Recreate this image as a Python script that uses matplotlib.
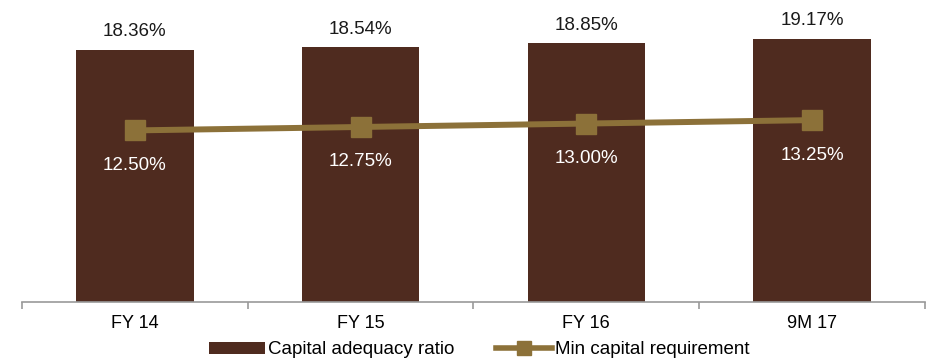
import matplotlib
matplotlib.use("Agg")
import matplotlib.pyplot as plt
from matplotlib.patches import Patch
from matplotlib.lines import Line2D
import numpy as np

categories = ["FY 14", "FY 15", "FY 16", "9M 17"]
capital_adequacy = [18.36, 18.54, 18.85, 19.17]
min_requirement = [12.50, 12.75, 13.00, 13.25]

bar_color = "#4F2B1F"
line_color = "#8C7139"

plt.rcParams["font.family"] = ["Liberation Sans", "DejaVu Sans"]

fig = plt.figure(figsize=(9.29, 3.61), dpi=100)
ax = fig.add_axes([22 / 929, 59 / 361, 903 / 929, 302 / 361])

x = np.arange(len(categories))
ax.bar(x, capital_adequacy, width=0.52, color=bar_color, zorder=2)
ax.plot(x, min_requirement, color=line_color, lw=4.3, marker="s", markersize=14, zorder=3)

for xi, v in zip(x, capital_adequacy):
    ax.annotate(f"{v:.2f}%", (xi, v), xytext=(0, 7), textcoords="offset points",
                ha="center", va="bottom", fontsize=13.5, color="#1a1a1a")
for xi, v in zip(x, min_requirement):
    ax.annotate(f"{v:.2f}%", (xi, v), xytext=(0, -19), textcoords="offset points",
                ha="center", va="top", fontsize=13.5, color="white")

ax.set_xlim(-0.5, len(categories) - 0.5)
ax.set_ylim(0, 22)
ax.set_yticks([])
for s in ["left", "right", "top"]:
    ax.spines[s].set_visible(False)
ax.spines["bottom"].set_color("#999999")
ax.spines["bottom"].set_linewidth(1.2)

ax.set_xticks(x)
ax.set_xticklabels(categories, fontsize=13)
ax.tick_params(axis="x", which="major", length=0, pad=9)
ax.set_xticks(np.arange(-0.5, len(categories)), minor=True)
ax.tick_params(axis="x", which="minor", length=5, color="#999999", width=1.2)

handles = [
    Patch(facecolor=bar_color, edgecolor="none", label="Capital adequacy ratio"),
    Line2D([], [], color=line_color, lw=4, marker="s", markersize=10,
           label="Min capital requirement"),
]
fig.legend(handles=handles, loc="center", bbox_to_anchor=(0.516, 11 / 361), ncol=2,
           frameon=False, fontsize=13.5, handlelength=3.0, handleheight=0.55,
           columnspacing=2.2, handletextpad=0.15, borderpad=0)

fig.savefig("out.png", dpi=100)
